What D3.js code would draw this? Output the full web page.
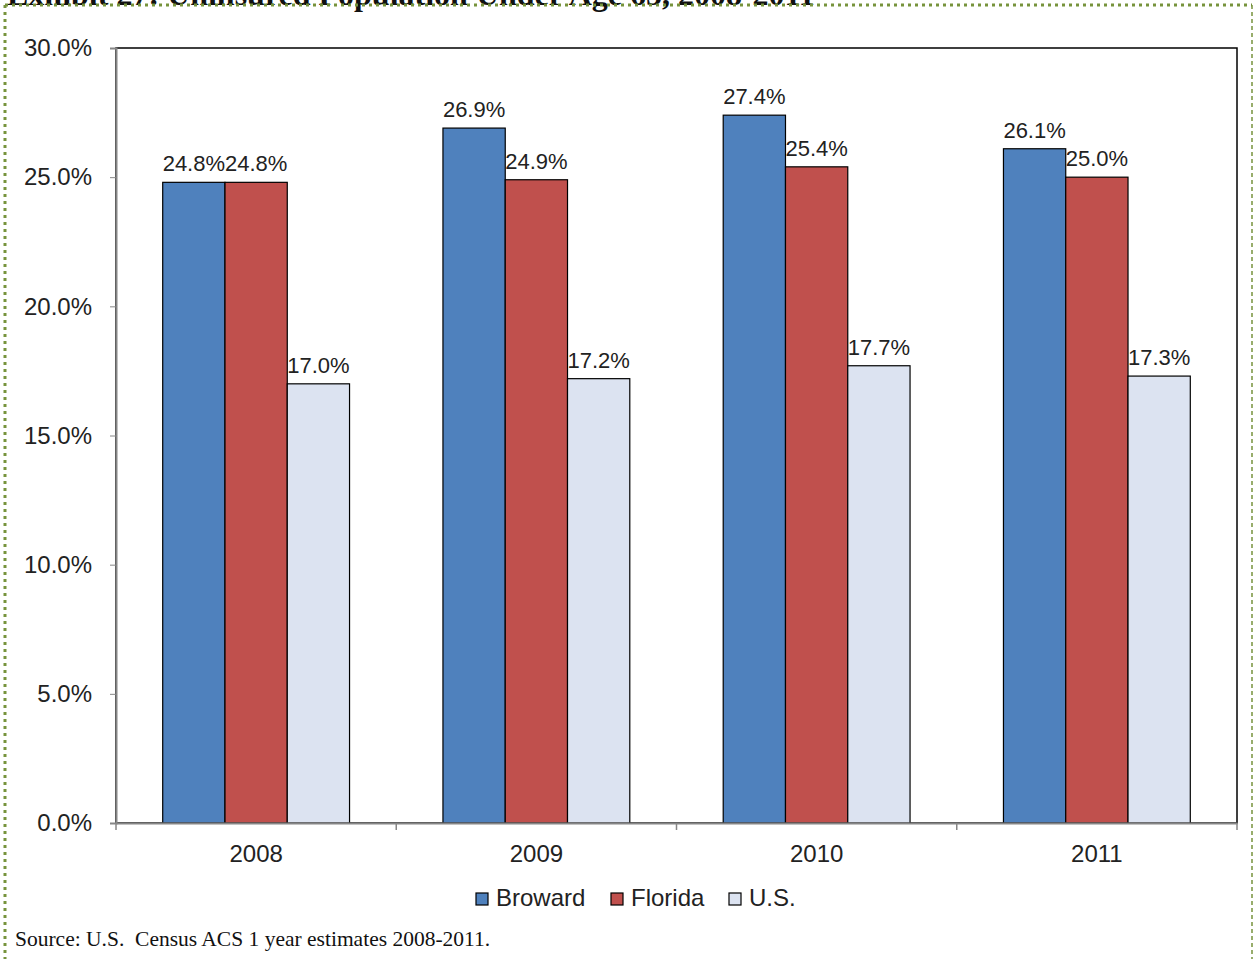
<!DOCTYPE html>
<html>
<head>
<meta charset="utf-8">
<script src="https://cdn.jsdelivr.net/npm/d3@7"></script>
<style>
  html, body { margin: 0; padding: 0; background: #fff; }
  svg { display: block; }
</style>
</head>
<body>
<svg id="chart" width="1254" height="959"></svg>
<script>
const years = ["2008", "2009", "2010", "2011"];
const seriesNames = ["Broward", "Florida", "U.S."];
const broward = [24.8, 26.9, 27.4, 26.1];
const florida = [24.8, 24.9, 25.4, 25.0];
const us = [17.0, 17.2, 17.7, 17.3];
const yTicks = [0, 5, 10, 15, 20, 25, 30];
const colors = ["#4F81BD", "#C0504D", "#DCE3F1"];

(function () {
const seriesValues = [broward, florida, us];
const svg = d3.select("#chart");
const sans = "Liberation Sans, Arial, sans-serif";
const serif = "Liberation Serif, Times New Roman, serif";

const pL = 116, pR = 1237, pT = 48, pB = 823;

// Title (cut off at top in the reference)
svg.append("text")
  .attr("x", 7).attr("y", 5)
  .attr("font-family", serif).attr("font-weight", "bold")
  .attr("font-size", 32).attr("fill", "#111")
  .text("Exhibit 27: Uninsured Population Under Age 65, 2008-2011");

// Outer dotted border
const g0 = svg.append("g").attr("stroke", "#77933C").attr("fill", "none");
g0.append("line").attr("x1", 5).attr("x2", 1252).attr("y1", 5).attr("y2", 5)
  .attr("stroke-width", 3).attr("stroke-dasharray", "3,4");
g0.append("line").attr("x1", 5).attr("x2", 5).attr("y1", 5).attr("y2", 959)
  .attr("stroke-width", 3).attr("stroke-dasharray", "3,4");
g0.append("line").attr("x1", 1252).attr("x2", 1252).attr("y1", 5).attr("y2", 959)
  .attr("stroke-width", 1.5).attr("stroke-dasharray", "4,3");

const y = d3.scaleLinear().domain([0, 30]).range([pB, pT]);
const x0 = d3.scaleBand().domain(years).range([pL, pR]).padding(0);
const bw = x0.bandwidth();
const x1 = d3.scaleBand().domain(seriesNames).range([bw / 6, bw * 5 / 6]).padding(0);

// Plot area frame
svg.append("rect")
  .attr("x", pL).attr("y", pT).attr("width", pR - pL).attr("height", pB - pT)
  .attr("fill", "none").attr("stroke", "#000").attr("stroke-width", 1.5);

// Bars
const groups = svg.append("g").selectAll("g")
  .data(years).join("g")
  .attr("transform", d => `translate(${x0(d)},0)`);

groups.selectAll("rect")
  .data((d, i) => seriesNames.map((s, j) => ({ s, j, v: seriesValues[j][i] })))
  .join("rect")
  .attr("x", d => x1(d.s))
  .attr("y", d => y(d.v))
  .attr("width", x1.bandwidth())
  .attr("height", d => y(0) - y(d.v))
  .attr("fill", d => colors[d.j])
  .attr("stroke", "#000").attr("stroke-width", 1.2);

groups.selectAll("text")
  .data((d, i) => seriesNames.map((s, j) => ({ s, j, v: seriesValues[j][i] })))
  .join("text")
  .attr("x", d => x1(d.s) + x1.bandwidth() / 2)
  .attr("y", d => y(d.v) - 11)
  .attr("text-anchor", "middle")
  .attr("font-family", sans).attr("font-size", 22).attr("fill", "#222")
  .text(d => d.v.toFixed(1) + "%");

// Y axis
const yAxis = d3.axisLeft(y).tickValues(yTicks).tickSize(6).tickPadding(18)
  .tickFormat(d => d.toFixed(1) + "%");
const ya = svg.append("g").attr("transform", `translate(${pL},0)`).call(yAxis);
ya.select(".domain").attr("stroke", "#868686").attr("stroke-width", 2);
ya.selectAll(".tick line").attr("stroke", "#868686");
ya.selectAll(".tick text").attr("font-family", sans).attr("font-size", 24).attr("fill", "#222");

// X axis
const xAxis = d3.axisBottom(x0).tickSize(0).tickPadding(22);
const xa = svg.append("g").attr("transform", `translate(0,${pB})`).call(xAxis);
xa.select(".domain").attr("stroke", "#868686").attr("stroke-width", 2);
xa.selectAll(".tick text").attr("font-family", sans).attr("font-size", 24).attr("fill", "#222");
// Category boundary ticks
xa.selectAll("line.bound")
  .data(years.map(d => x0(d)).concat([pR]))
  .join("line").attr("class", "bound")
  .attr("x1", d => d).attr("x2", d => d).attr("y1", 0).attr("y2", 7)
  .attr("stroke", "#868686").attr("stroke-width", 1.5);

// Legend
const legendX = [476, 611, 729];
const lg = svg.append("g").selectAll("g").data(seriesNames).join("g")
  .attr("transform", (d, i) => `translate(${legendX[i]},893)`);
lg.append("rect").attr("x", 0).attr("y", 0).attr("width", 12).attr("height", 12)
  .attr("fill", (d, i) => colors[i]).attr("stroke", "#000").attr("stroke-width", 1.2);
lg.append("text").attr("x", 20).attr("y", 13)
  .attr("font-family", sans).attr("font-size", 24).attr("fill", "#222")
  .text(d => d);

// Source
svg.append("text").attr("x", 15).attr("y", 946)
  .attr("font-family", serif).attr("font-size", 21.5).attr("fill", "#111")
  .style("white-space", "pre")
  .text("Source: U.S.  Census ACS 1 year estimates 2008-2011.");
})();
</script>
</body>
</html>
